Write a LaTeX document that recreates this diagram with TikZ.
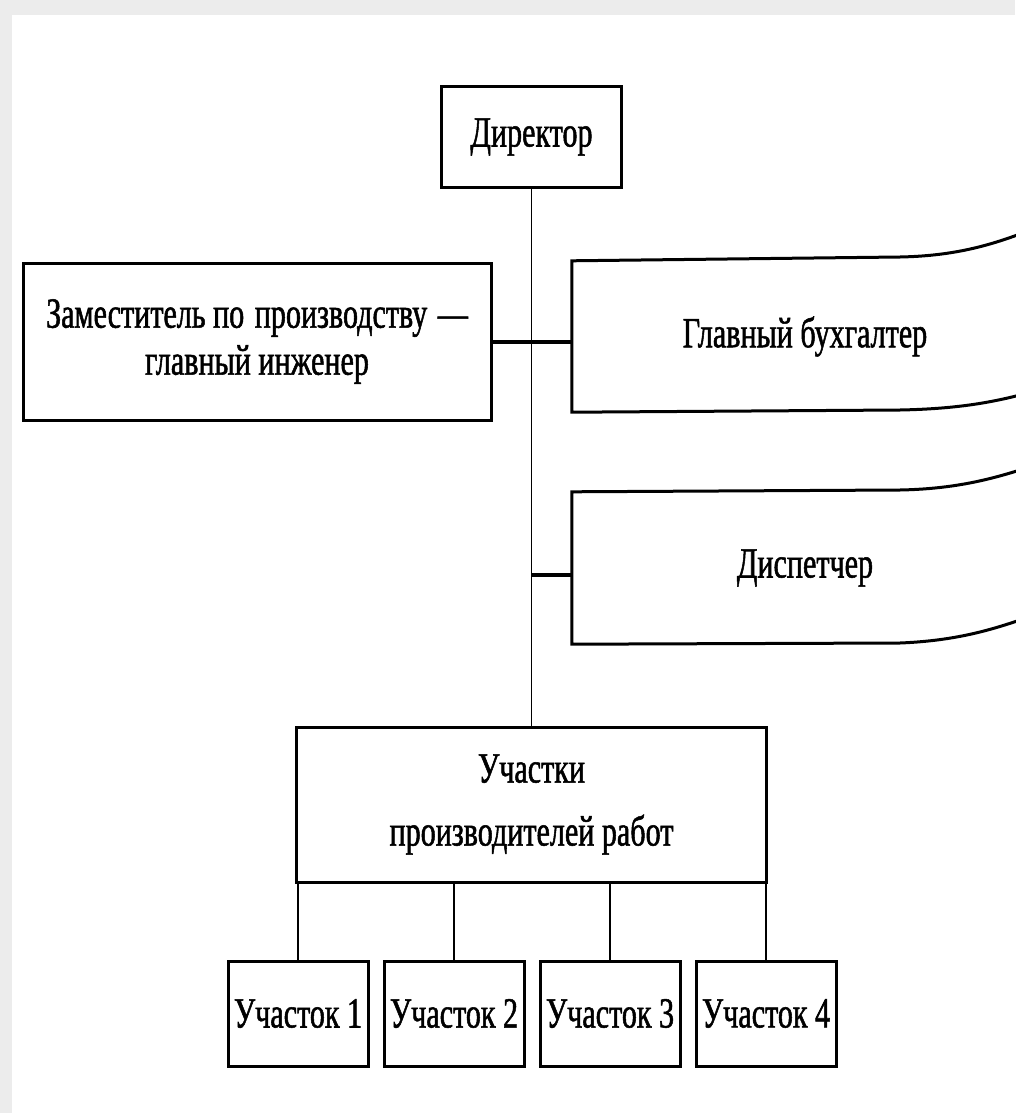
\documentclass[tikz,border=0pt]{standalone}
\usepackage{fontspec}
\setmainfont[FakeStretch=0.7, FakeBold=1.2]{Liberation Serif}
\usetikzlibrary{positioning}

\begin{document}
\begin{tikzpicture}[
    x=1pt, y=1pt,
    node distance=13pt,
    box/.style={draw, line width=3pt, align=center, inner sep=0pt, font=\fontsize{43}{49}\selectfont},
    textonly/.style={align=center, inner sep=0pt, font=\fontsize{43}{49}\selectfont},
    sitebox/.style={box, minimum width=140pt, minimum height=105pt},
    wire/.style={line width=1.6pt},
    stub/.style={line width=4pt},
    page/.style={line width=3pt},
]
% scanned page margin
\fill[gray!15] (0,0) rectangle (1015,-1113);
\fill[white] (12,-15) rectangle (1015,-1113);
\useasboundingbox (0,0) rectangle (1015,-1113);

\node[box, minimum width=180pt, minimum height=100pt] (dir) at (531.5,-137) {Директор};
\node[box, minimum width=468pt, minimum height=157pt] (dep) at (257,-341.5) {Заместитель по\hspace{3pt} производству\hspace{3pt} —\\[-2pt]главный инженер};
\node[textonly, minimum width=466pt, minimum height=151pt] (acc) at (805,-336.5) {Главный бухгалтер};
\node[textonly, minimum width=466pt, minimum height=152pt] (disp) at (805,-568) {Диспетчер};
\node[box, minimum width=470pt, minimum height=155pt] (sec) at (531.5,-804.5) {Участки\\[14pt]производителей работ};

\node[sitebox] (s1) at (298,-1013.5) {Участок 1};
\node[sitebox, right=of s1] (s2) {Участок 2};
\node[sitebox, right=of s2] (s3) {Участок 3};
\node[sitebox, right=of s3] (s4) {Участок 4};

% boxes bent at the book fold
\draw[page] (1020,-234) .. controls (985,-247) and (950,-256) .. (900,-257) -- (acc.north west) -- (acc.south west) -- (900,-410) .. controls (950,-409) and (985,-404) .. (1020,-395);
\draw[page] (1020,-470) .. controls (985,-481) and (950,-489) .. (900,-490) -- (disp.north west) -- (disp.south west) -- (900,-643) .. controls (950,-641) and (985,-632) .. (1020,-620);

\draw[wire] (dir) -- (sec);
\draw[stub] (dep.east) -- (dep.east -| acc.west);
\draw[stub] ([yshift=-7pt]disp.west) -- ([yshift=-7pt]disp.west -| sec.north);
\foreach \site in {s1,s2,s3,s4}
    \draw[wire] (\site.north) -- (\site.north |- sec.south);
\end{tikzpicture}
\end{document}
